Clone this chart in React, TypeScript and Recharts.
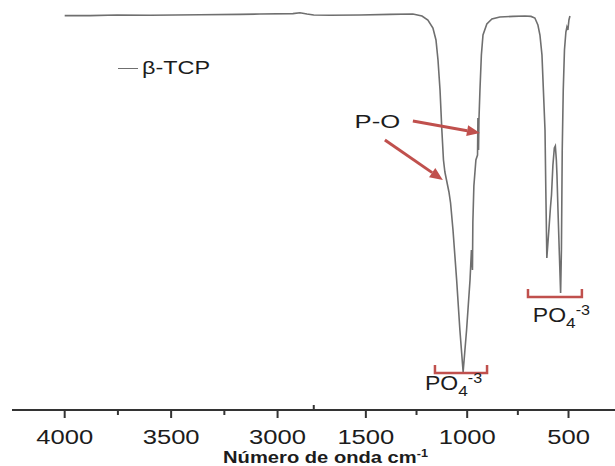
import React from "react";
import {
  Legend,
  Line,
  LineChart,
  ReferenceDot,
  ReferenceLine,
  XAxis,
  YAxis,
} from "recharts";

// FTIR spectrum of β-TCP (wavenumber cm-1, transmittance %)
const wavenumber = [
  4000, 3881, 3754, 3599, 3364, 3176, 3083, 2928, 2895, 2862, 2830,
  1757, 1677, 1529, 1381, 1268, 1223, 1194, 1169, 1154, 1144, 1134, 1125,
  1117, 1110, 1102, 1090, 1082, 1070, 1052, 1036, 1020, 1003, 986, 979, 974,
  972, 967, 957, 949, 947, 944, 942, 937, 930, 922, 903, 878, 839, 774, 715,
  685, 666, 651, 641, 631, 624, 616, 612, 607, 597, 589, 584, 577, 570, 565,
  560, 557, 552, 545, 539, 535, 531, 526, 520, 513, 508, 503, 498, 493,
];
const transmittance = [
  98.6, 98.6, 98.75, 98.7, 98.8, 98.9, 99, 99.1, 99.3, 99, 98.75,
  98.75, 98.7, 98.75, 98.9, 99, 98.5, 97.5, 95.5, 92.5, 87.5, 80, 70,
  62.5, 59.5, 57.5, 54.5, 51.75, 45, 32.5, 20, 9.5, 20, 32.5, 40, 35,
  47, 56, 62.5, 63.75, 73, 65, 72.5, 80, 88.75, 93.75, 96.5, 97.75, 98.25, 98.4, 98.5,
  98.4, 98, 96.25, 93.75, 88.75, 80, 70, 55, 38, 45, 50.75, 53.75, 61.25, 65.5, 66,
  62.5, 58.75, 50, 38.75, 29.25, 40, 65, 80, 90, 94.5, 95.75, 95, 97.5, 98.5,
];

const majorTicks = [4000, 3500, 3000, 1500, 1000, 500];
const minorTicks = [3750, 3250, 1250, 750];

// broken axis: 4000..2830 on the left, 1757..400 on the right
const BREAK_HIGH = 2830;
const BREAK_LOW = 1757;
const RIGHT_SCALE = 0.952;
const toAxis = (w: number) =>
  w >= BREAK_HIGH
    ? 4000 - w
    : 4000 - BREAK_HIGH + (BREAK_LOW - w) * RIGHT_SCALE;

const data = wavenumber.map((w, i) => ({ u: toAxis(w), t: transmittance[i] }));

type TickInfo = { label: string; kind: "major" | "minor" | "break" };
const tickInfo = new Map<number, TickInfo>();
majorTicks.forEach((w) => tickInfo.set(toAxis(w), { label: String(w), kind: "major" }));
minorTicks.forEach((w) => tickInfo.set(toAxis(w), { label: "", kind: "minor" }));
tickInfo.set(toAxis(BREAK_HIGH), { label: "", kind: "break" });
const tickValues = [...tickInfo.keys()].sort((a, b) => a - b);

const RED = "#c0504d";
const INK = "#1c1c1c";
const FONT = "'Liberation Sans', Arial, sans-serif";

function Stretch({
  x,
  y,
  sx,
  anchor = "start",
  size,
  weight = "normal",
  children,
}: any) {
  return (
    <text
      transform={`translate(${x},${y}) scale(${sx},1)`}
      textAnchor={anchor}
      fontSize={size}
      fontWeight={weight}
      fontFamily={FONT}
      fill={INK}
    >
      {children}
    </text>
  );
}

function AxisTick({ x, y, payload }: any) {
  let info: TickInfo | undefined;
  tickInfo.forEach((v, k) => {
    if (Math.abs(k - payload.value) < 0.01) info = v;
  });
  if (!info) return null;
  if (info.kind === "break") {
    return <line x1={x} x2={x} y1={y} y2={y - 5} stroke="#333" strokeWidth={2} />;
  }
  const len = info.kind === "major" ? 8 : 5;
  return (
    <g>
      <line x1={x} x2={x} y1={y} y2={y + len} stroke="#333" strokeWidth={2} />
      {info.label && (
        <Stretch x={x} y={y + 34} sx={1.28} anchor="middle" size={20}>
          {info.label}
        </Stretch>
      )}
    </g>
  );
}

function AxisTitle({ viewBox }: any) {
  const cx = viewBox.x + viewBox.width / 2 + 12;
  return (
    <Stretch x={cx} y={viewBox.y + 53} sx={1.26} anchor="middle" size={16} weight="bold">
      Número de onda cm<tspan fontSize={10} dy={-6}>-1</tspan>
    </Stretch>
  );
}

function Arrow({ x1, y1, x2, y2 }: any) {
  const dx = x2 - x1;
  const dy = y2 - y1;
  const d = Math.hypot(dx, dy);
  const ux = dx / d;
  const uy = dy / d;
  const hl = 13;
  const hw = 5.5;
  const bx = x2 - ux * hl;
  const by = y2 - uy * hl;
  return (
    <g>
      <line x1={x1} y1={y1} x2={bx} y2={by} stroke={RED} strokeWidth={3} />
      <polygon
        points={`${x2},${y2} ${bx - uy * hw},${by + ux * hw} ${bx + uy * hw},${by - ux * hw}`}
        fill={RED}
      />
    </g>
  );
}

function Bracket({ x1, y1, x2, y2 }: any) {
  return (
    <path
      d={`M${x1},${y1 - 8} L${x1},${y1} L${x2},${y2} L${x2},${y2 - 8}`}
      fill="none"
      stroke={RED}
      strokeWidth={2.5}
    />
  );
}

function PO4Label({ cx, cy }: any) {
  return (
    <Stretch x={cx} y={cy} sx={1.15} size={20}>
      PO
      <tspan fontSize={15} dy={6}>4</tspan>
      <tspan fontSize={14} dy={-13}>-3</tspan>
    </Stretch>
  );
}

function POLabel({ cx, cy }: any) {
  return (
    <Stretch x={cx} y={cy} sx={1.35} anchor="middle" size={19}>
      P-O
    </Stretch>
  );
}

function LegendBox({ payload }: any) {
  const item = payload?.[0];
  if (!item) return null;
  return (
    <div style={{ display: "flex", alignItems: "center", fontFamily: FONT }}>
      <span style={{ width: 20, borderTop: `1.5px solid ${item.color}` }} />
      <span
        style={{
          display: "inline-block",
          marginLeft: 4,
          fontSize: 18,
          color: INK,
          transform: "scaleX(1.3)",
          transformOrigin: "left center",
        }}
      >
        {item.value}
      </span>
    </div>
  );
}

export default function App() {
  return (
    <div style={{ width: 615, height: 466, background: "#fff" }}>
      <style>{"body{margin:0}"}</style>
      <LineChart
        width={615}
        height={466}
        data={data}
        margin={{ top: 10, right: 0, left: 12, bottom: 0 }}
      >
        <XAxis
          type="number"
          dataKey="u"
          domain={[-247.5, 2585]}
          allowDataOverflow
          ticks={tickValues}
          interval={0}
          tick={<AxisTick />}
          tickLine={false}
          tickSize={0}
          tickMargin={0}
          axisLine={{ stroke: "#333", strokeWidth: 2 }}
          height={56}
          label={{ content: <AxisTitle /> }}
        />
        <YAxis type="number" domain={[0, 100]} hide />
        <Legend
          content={<LegendBox />}
          layout="horizontal"
          align="center"
          verticalAlign="middle"
          wrapperStyle={{ left: 118, top: 58, width: 140 }}
        />
        <Line
          type="linear"
          dataKey="t"
          name="β-TCP"
          stroke="#6f6f6f"
          strokeWidth={1.6}
          dot={false}
          isAnimationActive={false}
        />
        <ReferenceLine
          segment={[{ x: toAxis(1268), y: 72.25 }, { x: toAxis(937), y: 69.25 }]}
          shape={<Arrow />}
          ifOverflow="visible"
        />
        <ReferenceLine
          segment={[{ x: toAxis(1406), y: 67.5 }, { x: toAxis(1120), y: 57.5 }]}
          shape={<Arrow />}
          ifOverflow="visible"
        />
        <ReferenceLine
          segment={[{ x: toAxis(1159), y: 9.25 }, { x: toAxis(902), y: 9.25 }]}
          shape={<Bracket />}
          ifOverflow="visible"
        />
        <ReferenceLine
          segment={[{ x: toAxis(700), y: 28.25 }, { x: toAxis(434), y: 28.25 }]}
          shape={<Bracket />}
          ifOverflow="visible"
        />
        <ReferenceDot x={toAxis(1443)} y={70.5} r={0} ifOverflow="visible" shape={<POLabel />} />
        <ReferenceDot x={toAxis(1208)} y={5} r={0} ifOverflow="visible" shape={<PO4Label />} />
        <ReferenceDot x={toAxis(676)} y={22} r={0} ifOverflow="visible" shape={<PO4Label />} />
      </LineChart>
    </div>
  );
}
